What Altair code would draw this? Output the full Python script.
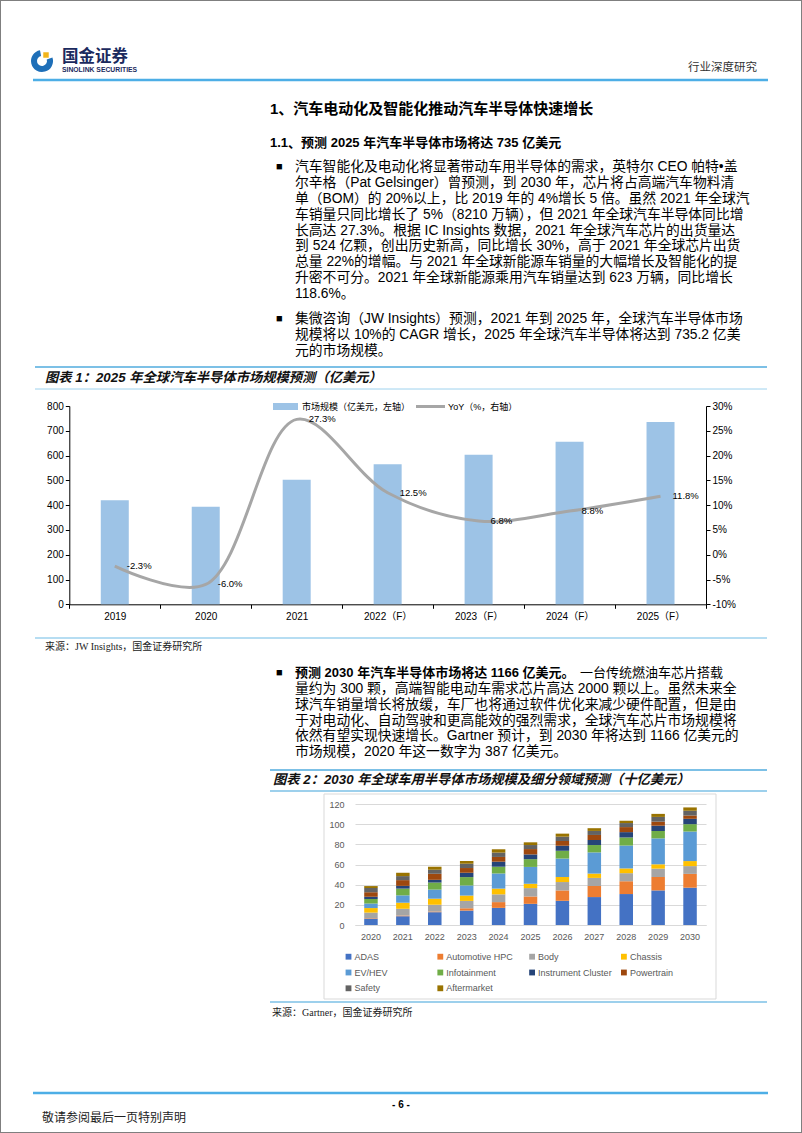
import altair as alt
import pandas as pd

W, H = 802, 1133
SANS = "Liberation Sans, Noto Sans CJK SC"
SERIF = "Liberation Serif, Noto Sans CJK SC"

# ---------------- chart 1 data ----------------
c1_years = ["2019", "2020", "2021", "2022（F）", "2023（F）", "2024（F）", "2025（F）"]
c1_size = [420, 394, 502, 565, 603, 656, 735.2]
c1_yoy = [-2.3, -6.0, 27.3, 12.5, 6.8, 8.8, 11.8]

# ---------------- chart 2 data ----------------
c2_years = ["2020", "2021", "2022", "2023", "2024", "2025", "2026", "2027", "2028", "2029", "2030"]
segments = ["ADAS", "Automotive HPC", "Body", "Chassis", "EV/HEV", "Infotainment",
            "Instrument Cluster", "Powertrain", "Safety", "Aftermarket"]
seg_colors = ["#4472C4", "#ED7D31", "#A5A5A5", "#FFC000", "#5B9BD5", "#70AD47",
              "#264478", "#9E480E", "#636363", "#997300"]
adas = [6.3, 8.7, 12.7, 14.3, 17.0, 21.0, 24.0, 27.7, 30.7, 34.3, 37.0]
hpc = [0.5, 0.7, 0.7, 2.3, 5.7, 7.3, 10.3, 11.0, 12.7, 13.3, 13.7]
body = [5.5, 6.7, 6.7, 7.3, 7.7, 8.3, 8.3, 8.0, 8.0, 8.3, 7.7]
chassis = [4.5, 6.0, 6.0, 5.3, 5.7, 4.3, 5.0, 4.3, 4.7, 4.3, 5.0]
evhev = [4.5, 7.3, 9.0, 10.0, 15.0, 16.7, 18.3, 21.0, 22.7, 25.7, 29.3]
infot = [4.5, 6.7, 7.0, 8.3, 6.7, 7.7, 7.7, 7.3, 8.0, 7.3, 7.3]
icluster = [2.2, 2.7, 2.7, 4.3, 5.0, 4.7, 5.0, 5.0, 5.3, 5.3, 5.3]
powertrain = [4.5, 5.7, 6.0, 4.7, 4.7, 5.3, 4.7, 5.0, 5.0, 4.0, 3.3]
safety = [4.2, 4.0, 4.0, 4.3, 4.3, 4.0, 4.3, 4.0, 4.0, 4.7, 4.7]
aftermarket = [1.9, 3.3, 3.0, 2.7, 3.3, 2.7, 3.0, 2.7, 2.3, 3.0, 3.3]
seg_values = [adas, hpc, body, chassis, evhev, infot, icluster, powertrain, safety, aftermarket]

# ---------------- page text ----------------
heading1 = ["1、汽车电动化及智能化推动汽车半导体快速增长"]
heading2 = ["1.1、预测 2025 年汽车半导体市场将达 735 亿美元"]
bullet1 = [
    "汽车智能化及电动化将显著带动车用半导体的需求，英特尔 CEO 帕特•盖",
    "尔辛格（Pat Gelsinger）曾预测，到 2030 年，芯片将占高端汽车物料清",
    "单（BOM）的 20%以上，比 2019 年的 4%增长 5 倍。虽然 2021 年全球汽",
    "车销量只同比增长了 5%（8210 万辆），但 2021 年全球汽车半导体同比增",
    "长高达 27.3%。根据 IC Insights 数据，2021 年全球汽车芯片的出货量达",
    "到 524 亿颗，创出历史新高，同比增长 30%，高于 2021 年全球芯片出货",
    "总量 22%的增幅。与 2021 年全球新能源车销量的大幅增长及智能化的提",
    "升密不可分。2021 年全球新能源乘用汽车销量达到 623 万辆，同比增长",
    "118.6%。",
]
bullet2 = [
    "集微咨询（JW Insights）预测，2021 年到 2025 年，全球汽车半导体市场",
    "规模将以 10%的 CAGR 增长，2025 年全球汽车半导体将达到 735.2 亿美",
    "元的市场规模。",
]
bullet3_bold = ["预测 2030 年汽车半导体市场将达 1166 亿美元。"]
bullet3_first = ["一台传统燃油车芯片搭载"]
bullet3 = [
    "量约为 300 颗，高端智能电动车需求芯片高达 2000 颗以上。虽然未来全",
    "球汽车销量增长将放缓，车厂也将通过软件优化来减少硬件配置，但是由",
    "于对电动化、自动驾驶和更高能效的强烈需求，全球汽车芯片市场规模将",
    "依然有望实现快速增长。Gartner 预计，到 2030 年将达到 1166 亿美元的",
    "市场规模，2020 年这一数字为 387 亿美元。",
]
fig1_title = ["图表 1：2025 年全球汽车半导体市场规模预测（亿美元）"]
fig2_title = ["图表 2：2030 年全球车用半导体市场规模及细分领域预测（十亿美元）"]
fig1_source = ["来源：JW Insights，国金证券研究所"]
fig2_source = ["来源：Gartner，国金证券研究所"]
legend1 = ["市场规模（亿美元，左轴）", "YoY（%，右轴）"]

BODY_SIZE = 13.8
ONE = pd.DataFrame({"a": [0]})


def text_lines(lines, x, y0, lh=16, size=BODY_SIZE, font=SANS, weight="normal",
               style="normal", color="#000000", align="left"):
    df = pd.DataFrame({"t": lines, "i": list(range(len(lines)))})
    return alt.Chart(df).transform_calculate(
        py=f"{y0} + datum.i * {lh}"
    ).mark_text(
        align=align, baseline="middle", fontSize=size, font=font,
        fontWeight=weight, fontStyle=style, color=color
    ).encode(x=alt.value(x), y=alt.Y("py:Q", scale=None, axis=None), text="t:N")


def hrule(x1, x2, y, color, w=1):
    return alt.Chart(ONE).mark_rule(color=color, strokeWidth=w).encode(
        x=alt.value(x1), x2=alt.value(x2), y=alt.value(y))


layers = []

# header
layers.append(alt.Chart(ONE).mark_arc(theta=1.25, theta2=6.1, radius=11, radius2=5,
                                      color="#1E6FB8").encode(x=alt.value(42), y=alt.value(61)))
layers.append(alt.Chart(ONE).mark_square(size=30, color="#F2B51C", opacity=1).encode(
    x=alt.value(46), y=alt.value(55)))
layers.append(text_lines(["国金证券"], 62, 57, size=16.5, weight="bold", color="#1B2A5E"))
layers.append(text_lines(["SINOLINK SECURITIES"], 62, 70, size=6.8, weight="bold", color="#1B2A5E"))
layers.append(text_lines(["行业深度研究"], 757, 68, size=11.5, color="#333333", align="right"))
layers.append(hrule(33, 768, 80, "#4DAEE6", 2.5))

# headings and body text
layers.append(text_lines(heading1, 270, 108.5, size=15, weight="bold"))
layers.append(text_lines(heading2, 270, 142.5, size=13, weight="bold"))
for yb in (167, 319.3, 673.3):
    layers.append(text_lines(["■"], 276, yb, size=11))
layers.append(text_lines(bullet1, 295, 166.7, lh=15.95))
layers.append(text_lines(bullet2, 295, 319.3, lh=16))
layers.append(text_lines(bullet3_bold, 295, 673.3, size=13.0, weight="bold"))
layers.append(text_lines(bullet3_first, 723, 673.3, size=13.0, align="right"))
layers.append(text_lines(bullet3, 295, 689, lh=15.75))

# figure 1 frame
layers.append(hrule(35, 767, 367, "#7CC0E6", 2))
layers.append(text_lines(fig1_title, 45, 378, size=13.3, weight="bold", style="italic", color="#111111"))
layers.append(hrule(35, 767, 389, "#9ED2EE", 1))
layers.append(hrule(35, 767, 638, "#9ED2EE", 1.5))
layers.append(text_lines(fig1_source, 45, 647, size=10, font=SERIF, color="#222222"))

# figure 2 frame
layers.append(hrule(270, 767, 770, "#7CC0E6", 2))
layers.append(text_lines(fig2_title, 273, 779.5, size=13.3, weight="bold", style="italic", color="#111111"))
layers.append(hrule(270, 767, 791, "#7CC0E6", 1.5))
layers.append(hrule(270, 767, 1002, "#7CC0E6", 1.5))
layers.append(text_lines(fig2_source, 272, 1012.5, size=10, font=SERIF, color="#222222"))
layers.append(alt.Chart(ONE).mark_rect(fill="white", fillOpacity=0, stroke="#D9D9D9",
                                       strokeWidth=1).encode(
    x=alt.value(324), x2=alt.value(716), y=alt.value(794), y2=alt.value(999)))

# footer
layers.append(hrule(33, 768, 1093, "#4DAEE6", 2.5))
layers.append(text_lines(["- 6 -"], 401, 1104.5, size=10, weight="bold", align="center"))
layers.append(text_lines(["敬请参阅最后一页特别声明"], 42, 1118, size=12, color="#222222"))

# ---------------- chart 1 ----------------
c1 = pd.DataFrame({"year": c1_years, "size": c1_size, "yoy": c1_yoy,
                   "lab": [f"{v:.1f}%" for v in c1_yoy]})
X0, X1 = 69.3, 706.0
Y0, Y1 = 604.3, 406.0
x1_scale = alt.Scale(domain=c1_years, range=[X0, X1], paddingInner=0, paddingOuter=0)
x1_axis = alt.Axis(orient="bottom", offset=Y0 - H, title=None, labelAngle=0, tickBand="extent",
                   tickSize=4, labelPadding=3, labelFontSize=10, labelFont=SANS,
                   labelColor="#000000", domainColor="#000000", tickColor="#000000",
                   domainWidth=1, tickWidth=1)
bars1 = alt.Chart(c1).mark_bar(color="#9DC3E6", size=28).encode(
    x=alt.X("year:N", sort=c1_years, scale=x1_scale, axis=x1_axis),
    y=alt.Y("size:Q", scale=alt.Scale(domain=[0, 800], range=[Y0, Y1], nice=False),
            axis=alt.Axis(orient="left", offset=-X0, values=list(range(0, 801, 100)), title=None,
                          tickSize=4, labelPadding=2, labelFontSize=10, labelFont=SANS,
                          labelColor="#000000", domainColor="#000000", tickColor="#000000",
                          grid=False)),
)
yoy_scale = alt.Scale(domain=[-10, 30], range=[Y0, Y1], nice=False, zero=False)
line1 = alt.Chart(c1).mark_line(color="#A6A6A6", strokeWidth=3, interpolate="catmull-rom").encode(
    x=alt.X("year:N", sort=c1_years, scale=x1_scale, axis=None),
    y=alt.Y("yoy:Q", scale=yoy_scale,
            axis=alt.Axis(orient="right", offset=X1 - W, values=list(range(-10, 31, 5)), title=None,
                          labelExpr="datum.value + '%'", tickSize=4, labelPadding=2,
                          labelFontSize=10, labelFont=SANS, labelColor="#000000",
                          domainColor="#000000", tickColor="#000000", grid=False)),
)
labels1 = alt.Chart(c1).mark_text(align="left", baseline="middle", dx=12, fontSize=9.5,
                                  font=SANS, color="#000000").encode(
    x=alt.X("year:N", sort=c1_years, scale=x1_scale, axis=None),
    y=alt.Y("yoy:Q", scale=yoy_scale, axis=None),
    text="lab:N",
)
layers += [bars1, line1, labels1]

# chart 1 legend
layers.append(alt.Chart(ONE).mark_rect(color="#9DC3E6").encode(
    x=alt.value(273), x2=alt.value(298), y=alt.value(403), y2=alt.value(410)))
layers.append(text_lines(legend1[:1], 302, 406.5, size=9))
layers.append(alt.Chart(ONE).mark_rule(color="#A6A6A6", strokeWidth=3).encode(
    x=alt.value(416), x2=alt.value(445), y=alt.value(406.5)))
layers.append(text_lines(legend1[1:], 448, 406.5, size=9))

# ---------------- chart 2 ----------------
rows = []
for yi, yr in enumerate(c2_years):
    for k, seg in enumerate(segments):
        rows.append({"year": yr, "seg": seg, "k": k, "v": seg_values[k][yi]})
c2 = pd.DataFrame(rows)
B0, B1 = 925.0, 804.0
seg_scale = alt.Scale(domain=segments, range=seg_colors)
bars2 = alt.Chart(c2).mark_bar(size=13.5).encode(
    x=alt.X("year:N", sort=c2_years,
            scale=alt.Scale(domain=c2_years, range=[355, 706], paddingInner=0, paddingOuter=0),
            axis=alt.Axis(orient="bottom", offset=B0 - H, title=None, labelAngle=0, ticks=False,
                          labelPadding=7, labelFontSize=9, labelFont=SANS, labelColor="#595959",
                          domainColor="#D9D9D9")),
    y=alt.Y("v:Q", stack="zero",
            scale=alt.Scale(domain=[0, 120], range=[B0, B1], nice=False),
            axis=alt.Axis(orient="left", offset=-353, values=list(range(0, 121, 20)), title=None,
                          ticks=False, domain=False, labelPadding=9, labelFontSize=9,
                          labelFont=SANS, labelColor="#595959", grid=True,
                          gridColor="#D9D9D9", gridWidth=1)),
    color=alt.Color("seg:N", scale=seg_scale, legend=None),
    order=alt.Order("k:Q", sort="ascending"),
)
layers.append(bars2)

# chart 2 legend (4 columns, drawn from the segment list)
leg2 = pd.DataFrame({"seg": segments, "i": list(range(len(segments)))})
leg_base = alt.Chart(leg2).transform_calculate(
    px="348.5 + (datum.i % 4) * 91.8",
    py="956.7 + floor(datum.i / 4) * 15.8",
)
layers.append(leg_base.mark_square(size=34, opacity=1).encode(
    x=alt.X("px:Q", scale=None, axis=None), y=alt.Y("py:Q", scale=None, axis=None),
    color=alt.Color("seg:N", scale=seg_scale, legend=None)))
layers.append(leg_base.mark_text(align="left", baseline="middle", dx=6, fontSize=9,
                                 font=SANS, color="#595959").encode(
    x=alt.X("px:Q", scale=None, axis=None), y=alt.Y("py:Q", scale=None, axis=None),
    text="seg:N"))

chart = alt.layer(*layers).resolve_scale(
    x="independent", y="independent"
).properties(
    width=W, height=H, padding=0, autosize=alt.AutoSizeParams(type="none"), background="white"
).configure_view(stroke="#7F7F7F", strokeWidth=2)

chart.save("out.html", embed_options={"renderer": "svg", "actions": False})
